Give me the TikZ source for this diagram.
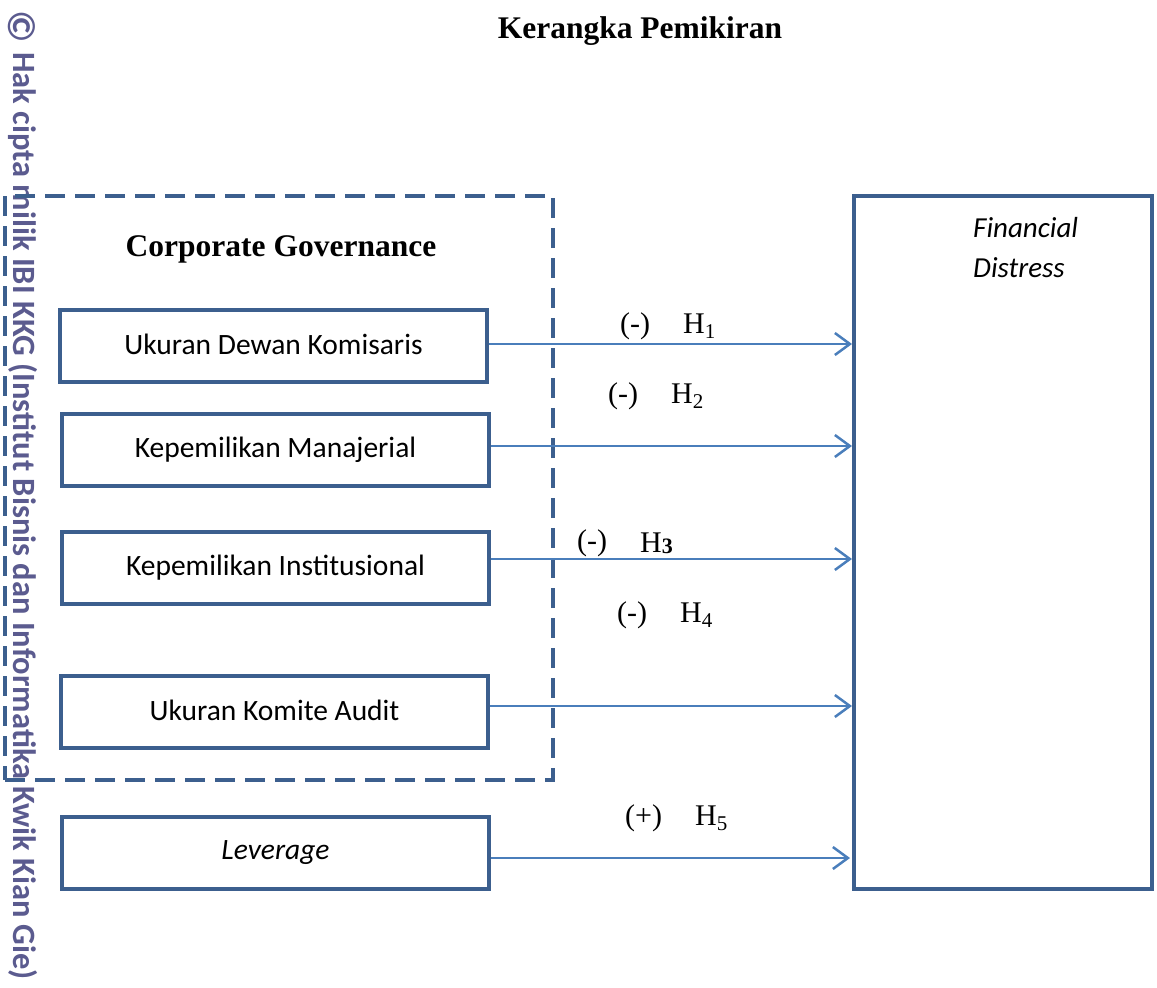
\documentclass[tikz,border=0pt]{standalone}
\usepackage{fontspec}
\setmainfont{Liberation Serif}
\newfontfamily\calfont{Carlito}
\usetikzlibrary{arrows.meta}
\definecolor{boxblue}{HTML}{3C5F8E}
\definecolor{arrblue}{HTML}{4A7EBB}
\definecolor{wmark}{HTML}{5B5B8F}
\tikzset{
  x=1pt, y=-1pt,
  varbox/.style={draw=boxblue, line width=4pt, minimum width=427pt, minimum height=72pt, inner sep=0pt,
    font=\calfont\fontsize{29.5}{34}\selectfont},
  conn/.style={draw=arrblue, line width=2pt, -{Straight Barb[length=15pt,width=22pt,line width=2.5pt]}},
  hlabel/.style={font=\fontsize{30}{34}\selectfont, inner sep=0pt, anchor=west},
  wmtext/.style={rotate=-90, text=wmark, inner sep=0pt, font=\calfont\bfseries\fontsize{32.5}{36}\selectfont},
}
\begin{document}
\begin{tikzpicture}
\useasboundingbox (0,0) rectangle (1157,988);
% watermark
\node[wmtext, font=\calfont\bfseries\fontsize{39}{39}\selectfont] (cr) at (22,27) {©};
\node[wmtext, anchor=west] (wm) at (23,52) {Hak cipta milik IBI KKG (Institut Bisnis dan Informatika Kwik Kian Gie)};
% title
\node[font=\bfseries\fontsize{31.5}{36}\selectfont] (title) at (640,31) {Kerangka Pemikiran};
% dashed group
\node[draw=boxblue, dash pattern=on 20pt off 10pt, line width=3.5pt, minimum width=548pt, minimum height=584pt, inner sep=0pt] (cg) at (279,488) {};
\node[font=\bfseries\fontsize{31.5}{36}\selectfont] (cgt) at (281,249) {Corporate Governance};
% variable boxes
\node[varbox] (b1) at (273.5,346) {\raisebox{3pt}{Ukuran Dewan Komisaris}};
\node[varbox] (b2) at (275.5,450) {\raisebox{3pt}{Kepemilikan Manajerial}};
\node[varbox] (b3) at (275.5,568) {\raisebox{3pt}{Kepemilikan Institusional}};
\node[varbox] (b4) at (274.5,712) {\raisebox{3pt}{Ukuran Komite Audit}};
\node[varbox] (b5) at (275.5,852.5) {\raisebox{3pt}{\itshape Leverage}};
% dependent
\node[draw=boxblue, line width=4pt, minimum width=298pt, minimum height=693pt, inner sep=0pt] (fd) at (1003,542.5) {};
\node[anchor=north west, align=left, inner sep=0pt, font=\calfont\itshape\fontsize{29}{40}\selectfont] (fdt) at (973,217) {Financial\\Distress};
% connectors
\draw[conn] (b1.east |- 0,344) coordinate (s1) -- (fd.west |- s1);
\draw[conn] (b2.east |- 0,446) coordinate (s2) -- (fd.west |- s2);
\draw[conn] (b3.east |- 0,559) coordinate (s3) -- (fd.west |- s3);
\draw[conn] (b4.east |- 0,706) coordinate (s4) -- (fd.west |- s4);
\draw[conn] (b5.east |- 0,858) coordinate (s5) -- (850,858) coordinate (e5);
% labels
\node[hlabel] (l1a) at (620,326) {(-)};
\node[hlabel] (l1b) at (683,326) {H\textsubscript{1}};
\node[hlabel] (l2a) at (608,396) {(-)};
\node[hlabel] (l2b) at (671,396) {H\textsubscript{2}};
\node[hlabel] (l3a) at (577,543) {(-)};
\node[hlabel] (l3b) at (640,543) {H{\fontsize{22}{24}\selectfont\bfseries\raisebox{-1pt}{3}}};
\node[hlabel] (l4a) at (617,615) {(-)};
\node[hlabel] (l4b) at (680,615) {H\textsubscript{4}};
\node[hlabel] (l5a) at (625,818) {(+)};
\node[hlabel] (l5b) at (695,818) {H\textsubscript{5}};
\end{tikzpicture}
\end{document}
